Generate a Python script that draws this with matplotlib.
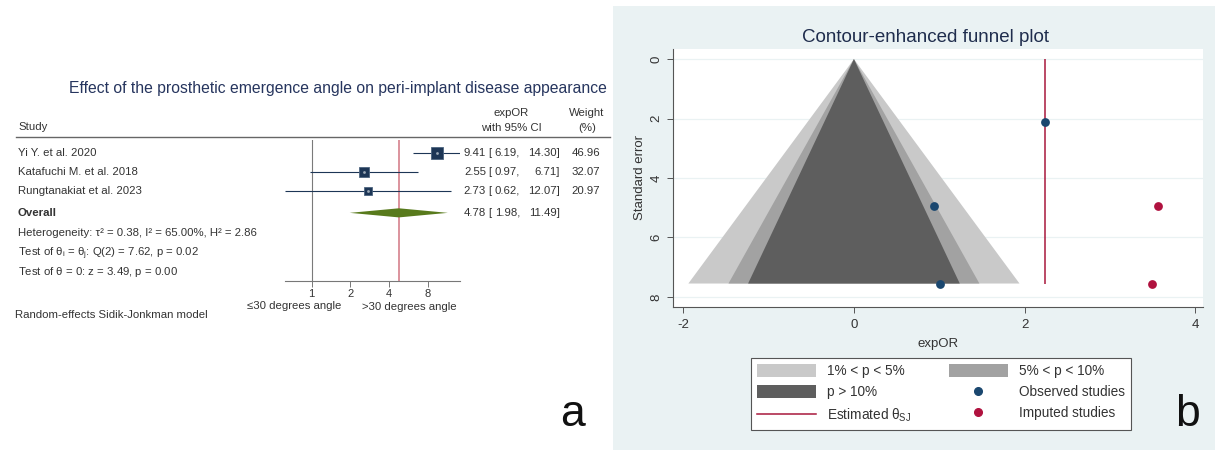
import numpy as np
import matplotlib
matplotlib.use("Agg")
import matplotlib.pyplot as plt
from matplotlib.patches import Patch
from matplotlib.lines import Line2D
from matplotlib.transforms import blended_transform_factory

plt.rcParams['font.family'] = ['Liberation Sans', 'DejaVu Sans']
plt.rcParams['mathtext.fontset'] = 'custom'
plt.rcParams['mathtext.rm'] = 'Liberation Sans'
plt.rcParams['mathtext.it'] = 'Liberation Sans'
plt.rcParams['mathtext.bf'] = 'Liberation Sans:bold'
plt.rcParams['axes.unicode_minus'] = False

# ---------------- data: forest plot (panel a) ----------------
studies = ["Yi Y. et al. 2020", "Katafuchi M. et al. 2018", "Rungtanakiat et al. 2023"]
study_or = [9.41, 2.55, 2.73]
study_lo = [6.19, 0.97, 0.62]
study_hi = [14.30, 6.71, 12.07]
study_weight = [46.96, 32.07, 20.97]
overall_or = 4.78
overall_lo = 1.98
overall_hi = 11.49
forest_ticks = [1, 2, 4, 8]
forest_title = "Effect of the prosthetic emergence angle on peri-implant disease appearance"
het_text = "Heterogeneity: τ² = 0.38, I² = 65.00%, H² = 2.86"
test1_text = r"Test of $\theta_i$ = $\theta_j$: Q(2) = 7.62, p = 0.02"
test2_text = r"Test of $\theta$ = 0: z = 3.49, p = 0.00"
model_text = "Random-effects Sidik-Jonkman model"
favor_left = "≤30 degrees angle"
favor_right = ">30 degrees angle"

# ---------------- data: funnel plot (panel b) ----------------
observed_x = [2.24, 0.94, 1.01]
observed_se = [2.13, 4.94, 7.55]
imputed_x = [3.56, 3.49]
imputed_se = [4.94, 7.55]
theta_est = 2.24
funnel_center = 0.0
funnel_base_se = 7.55
contour_halfwidth = [1.94, 1.47, 1.24]   # 1%, 5%, 10% contours at base
contour_colors = ['#c9c9c9', '#a2a2a2', '#5e5e5e']
contour_labels = ['1% < p < 5%', '5% < p < 10%', 'p > 10%']
funnel_xticks = [-2, 0, 2, 4]
funnel_yticks = [0, 2, 4, 6, 8]

W, H = 1215, 450
fig = plt.figure(figsize=(W / 100, H / 100), dpi=100)
fig.patch.set_facecolor('white')

def fx(x):
    return x / W

def fy(y):
    return 1 - y / H

# right panel background (as a bottom-most axes)
bg = fig.add_axes([fx(613), 0, 1 - fx(613), fy(6)], zorder=-10)
bg.set_facecolor('#eaf2f3')
bg.set_xticks([]); bg.set_yticks([])
for s in bg.spines.values():
    s.set_visible(False)

# ================= Panel a: forest plot =================
txt_c = '#333333'
fs = 8.2
ax_f = fig.add_axes([fx(285), fy(281), (460 - 285) / W, (281 - 140) / H])
ax_f.set_xscale('log', base=2)
ax_f.set_xlim(0.62, 14.30)
ax_f.set_ylim(7.737, 0.316)
ax_f.patch.set_alpha(0)
for s in ['top', 'right', 'left']:
    ax_f.spines[s].set_visible(False)
ax_f.spines['bottom'].set_color('#777777')
ax_f.spines['bottom'].set_linewidth(0.8)
ax_f.set_yticks([])
ax_f.set_xticks(forest_ticks)
ax_f.set_xticklabels([str(t) for t in forest_ticks], fontsize=8, color=txt_c)
ax_f.xaxis.set_minor_locator(matplotlib.ticker.NullLocator())
ax_f.tick_params(axis='x', length=4, width=0.7, color='#777777', pad=1.5)

rows = [1, 2, 3]
overall_row = 4.15
text_rows = [5.15, 6.15, 7.15]

ax_f.axvline(1, color='#7a7a7a', lw=0.8, zorder=1)
ax_f.axvline(overall_or, color='#d98a95', lw=1.3, zorder=1)

navy = '#1d3656'
ax_f.hlines(rows, study_lo, study_hi, color=navy, lw=0.8, zorder=2)
for r, o, w in zip(rows, study_or, study_weight):
    ax_f.plot(o, r, marker='s', ms=1.255 * np.sqrt(w), color=navy, mec='#4d6580',
              mew=0.6, zorder=3, clip_on=False)
    ax_f.plot(o, r, marker='o', ms=2.0, color='#9aa7b5', mec='none', zorder=4)

dh = 0.24
ax_f.fill([overall_lo, overall_or, overall_hi, overall_or],
          [overall_row, overall_row - dh, overall_row, overall_row + dh],
          color='#587a1c', lw=0, zorder=3)

trow = blended_transform_factory(fig.transFigure, ax_f.transData)
for r, name in zip(rows, studies):
    ax_f.text(fx(18), r, name, transform=trow, fontsize=fs, color=txt_c, va='center', ha='left')
ax_f.text(fx(18), overall_row, "Overall", transform=trow, fontsize=fs, color=txt_c,
          va='center', ha='left', fontweight='bold')
for r, t in zip(text_rows, [het_text, test1_text, test2_text]):
    ax_f.text(fx(18), r, t, transform=trow, fontsize=fs, color=txt_c, va='center_baseline', ha='left')

all_or = study_or + [overall_or]
all_lo = study_lo + [overall_lo]
all_hi = study_hi + [overall_hi]
all_rows = rows + [overall_row]
for r, o, lo, hi in zip(all_rows, all_or, all_lo, all_hi):
    ax_f.text(fx(486), r, f"{o:.2f}", transform=trow, fontsize=fs, color=txt_c, va='center', ha='right')
    ax_f.text(fx(488), r, "[", transform=trow, fontsize=fs, color=txt_c, va='center', ha='left')
    ax_f.text(fx(520), r, f"{lo:.2f},", transform=trow, fontsize=fs, color=txt_c, va='center', ha='right')
    ax_f.text(fx(560), r, f"{hi:.2f}]", transform=trow, fontsize=fs, color=txt_c, va='center', ha='right')
for r, w in zip(rows, study_weight):
    ax_f.text(fx(600), r, f"{w:.2f}", transform=trow, fontsize=fs, color=txt_c, va='center', ha='right')

# headers
fig.text(fx(338), fy(88), forest_title, fontsize=11.3, color='#26355e', ha='center', va='center')
fig.text(fx(18), fy(127), "Study", fontsize=fs, color=txt_c, ha='left', va='center')
fig.text(fx(511), fy(113), "expOR", fontsize=fs, color=txt_c, ha='center', va='center')
fig.text(fx(511), fy(128), "with 95% CI", fontsize=fs, color=txt_c, ha='center', va='center')
fig.text(fx(587), fy(113), "Weight", fontsize=fs, color=txt_c, ha='center', va='center')
fig.text(fx(587), fy(128), "(%)", fontsize=fs, color=txt_c, ha='center', va='center')
fig.add_artist(Line2D([fx(16), fx(610)], [fy(137), fy(137)], transform=fig.transFigure,
                      color='#666666', lw=1.0))
fig.text(fx(341), fy(306), favor_left, fontsize=fs, color=txt_c, ha='right', va='center')
fig.text(fx(362), fy(307), favor_right, fontsize=fs, color=txt_c, ha='left', va='center')
fig.text(fx(15), fy(315), model_text, fontsize=fs, color=txt_c, ha='left', va='center')
fig.text(fx(572), fy(414), "a", fontsize=32, color='#111111', ha='center', va='center')

# ================= Panel b: funnel plot =================
ax_b = fig.add_axes([fx(673), fy(307), (1203 - 673) / W, (307 - 49) / H])
ax_b.set_facecolor('white')
ax_b.set_xlim(-2.12, 4.09)
ax_b.set_ylim(8.34, -0.34)
ax_b.set_axisbelow(True)
ax_b.yaxis.grid(True, color='#eaf2f3', lw=0.9)
ax_b.xaxis.grid(False)
for s in ['top', 'right']:
    ax_b.spines[s].set_visible(False)
for s in ['left', 'bottom']:
    ax_b.spines[s].set_color('#555555')
    ax_b.spines[s].set_linewidth(0.8)

for hw, c in zip(contour_halfwidth, contour_colors):
    ax_b.fill([funnel_center - hw, funnel_center, funnel_center + hw],
              [funnel_base_se, 0, funnel_base_se], color=c, lw=0, zorder=2)
ax_b.vlines(theta_est, 0, funnel_base_se, color='#a8183c', lw=1.1, zorder=3)
ax_b.scatter(observed_x, observed_se, s=40, color='#1a476f', zorder=4, linewidths=0)
ax_b.scatter(imputed_x, imputed_se, s=40, color='#b0123f', zorder=4, linewidths=0)

ax_b.set_xticks(funnel_xticks)
ax_b.set_yticks(funnel_yticks)
ax_b.tick_params(axis='both', length=4, width=0.7, color='#555555', labelsize=9.5, labelcolor='#333333')
ax_b.tick_params(axis='x', pad=5)
for lab in ax_b.get_yticklabels():
    lab.set_rotation(90)
    lab.set_va('center')
ax_b.set_xlabel("expOR", fontsize=9.5, color='#333333', labelpad=5)
ax_b.set_ylabel("Standard error", fontsize=9.5, color='#333333', labelpad=3)

fig.text(fx(925), fy(37), "Contour-enhanced funnel plot", fontsize=13.5, color='#1f2d4d',
         ha='center', va='center')

handles = [
    Patch(facecolor=contour_colors[0], edgecolor='none', label=contour_labels[0]),
    Patch(facecolor=contour_colors[2], edgecolor='none', label=contour_labels[2]),
    Line2D([], [], color='#a8183c', lw=1.1, label=r'Estimated $\theta_{\mathrm{SJ}}$'),
    Patch(facecolor=contour_colors[1], edgecolor='none', label=contour_labels[1]),
    Line2D([], [], ls='none', marker='o', ms=5.5, color='#1a476f', label='Observed studies'),
    Line2D([], [], ls='none', marker='o', ms=5.5, color='#b0123f', label='Imputed studies'),
]
leg = fig.legend(handles=handles, ncol=2, loc='center',
                 bbox_to_anchor=(fx((745 + 1137) / 2), fy(394)),
                 fontsize=9.8, handlelength=4.3, handleheight=1.1, handletextpad=0.8,
                 columnspacing=2.8, labelspacing=0.5, borderpad=0.5, fancybox=False,
                 framealpha=1, edgecolor='#555555')
leg.get_frame().set_linewidth(0.8)
for t in leg.get_texts():
    t.set_color('#333333')

fig.text(fx(1188), fy(414), "b", fontsize=32, color='#111111', ha='center', va='center')

fig.savefig("out.png", dpi=100, facecolor='white')
